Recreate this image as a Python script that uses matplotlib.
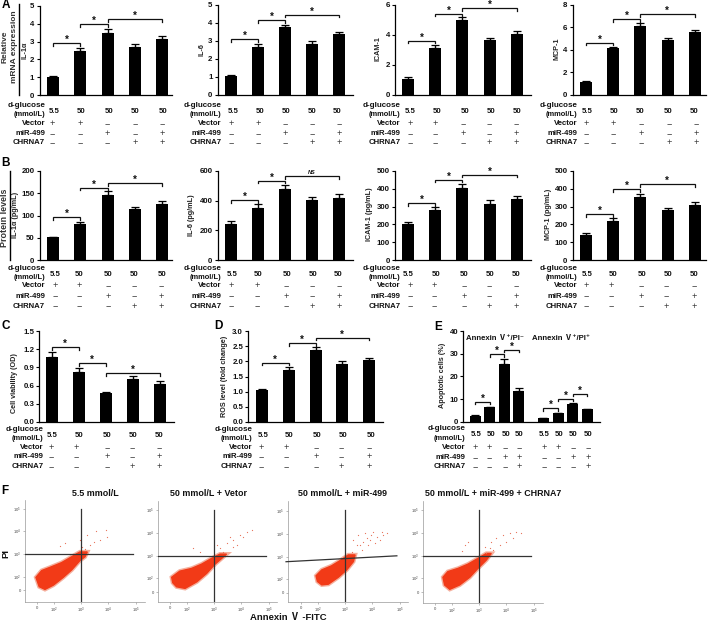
import matplotlib
matplotlib.use('Agg')
import matplotlib.pyplot as plt

W, H = 709, 621
plt.rcParams['font.family'] = ['Liberation Sans', 'Noto Sans CJK SC', 'DejaVu Sans']
plt.rcParams['mathtext.default'] = 'regular'
fig = plt.figure(figsize=(W / 100, H / 100), dpi=100)

# ---------- data ----------
glucose5 = ['5.5', '50', '50', '50', '50']
vector5 = ['+', '+', '−', '−', '−']
mir5 = ['−', '−', '+', '−', '+']
chrna5 = ['−', '−', '−', '+', '+']
glucose8 = ['5.5', '50', '50', '50', '5.5', '50', '50', '50']
vector8 = ['+', '+', '−', '−', '+', '+', '−', '−']
mir8 = ['−', '−', '+', '+', '−', '−', '+', '+']
chrna8 = ['−', '−', '−', '+', '−', '−', '−', '+']

il1a_mrna = [1.03, 2.5, 3.5, 2.72, 3.15]
il1a_mrna_err = [0.02, 0.15, 0.2, 0.15, 0.15]
il6_mrna = [1.03, 2.65, 3.75, 2.83, 3.37]
il6_mrna_err = [0.05, 0.18, 0.12, 0.15, 0.13]
icam_mrna = [1.07, 3.08, 5.0, 3.65, 4.05]
icam_mrna_err = [0.08, 0.22, 0.15, 0.1, 0.17]
mcp_mrna = [1.1, 4.15, 6.15, 4.9, 5.6]
mcp_mrna_err = [0.08, 0.12, 0.2, 0.13, 0.15]

il1a_prot = [51, 80, 146, 115, 125]
il1a_prot_err = [2, 6, 8, 5, 7]
il6_prot = [240, 352, 478, 402, 417]
il6_prot_err = [22, 25, 27, 25, 28]
icam_prot = [200, 278, 405, 312, 342]
icam_prot_err = [15, 18, 20, 22, 17]
mcp_prot = [142, 222, 352, 278, 310]
mcp_prot_err = [8, 14, 20, 15, 16]

viability = [1.08, 0.83, 0.47, 0.71, 0.63]
viability_err = [0.08, 0.06, 0.03, 0.05, 0.04]
ros = [1.04, 1.7, 2.37, 1.92, 2.05]
ros_err = [0.06, 0.1, 0.1, 0.1, 0.08]
apoptosis = [2.7, 6.4, 25.6, 13.7, 1.6, 3.7, 7.7, 5.4]
apoptosis_err = [0.2, 0.3, 2, 1, 0.15, 0.3, 0.7, 0.4]

flow1_core_x = [1.35, 1.56, 1.86, 2.29, 2.66, 2.96, 3.23, 3.15, 2.96, 2.66, 2.35, 1.99, 1.68, 1.47]
flow1_core_y = [1.97, 2.27, 2.41, 2.62, 2.88, 3.09, 3.09, 2.88, 2.71, 2.30, 1.97, 1.63, 1.44, 1.56]
flow1_x = [2.23, 2.41, 2.96, 3.23, 3.55, 3.92, 3.94, 3.70, 3.46, 3.33, 3.15, 3.02]
flow1_y = [3.37, 3.50, 3.62, 3.84, 4.00, 4.06, 3.73, 3.62, 3.54, 3.40, 3.21, 3.32]
flow2_core_x = [1.45, 1.75, 2.18, 2.55, 2.91, 3.22, 3.46, 3.28, 3.04, 2.73, 2.37, 1.94, 1.63, 1.49]
flow2_core_y = [2.05, 2.32, 2.44, 2.63, 2.88, 3.07, 3.07, 2.88, 2.63, 2.22, 1.85, 1.56, 1.63, 1.81]
flow2_x = [2.24, 2.49, 3.22, 3.46, 3.71, 3.95, 4.20, 4.38, 3.59, 3.83, 3.34, 3.10, 4.07, 3.71]
flow2_y = [3.32, 3.18, 3.32, 3.54, 3.69, 3.91, 4.06, 4.13, 3.84, 3.47, 3.18, 3.47, 3.84, 3.40]
flow3_core_x = [1.94, 2.15, 2.51, 2.82, 3.12, 3.37, 3.31, 3.06, 2.76, 2.39, 2.15, 1.99]
flow3_core_y = [2.15, 2.41, 2.59, 2.82, 3.07, 3.07, 2.78, 2.41, 2.09, 1.78, 1.75, 1.90]
flow3_x = [3.31, 3.49, 3.73, 4.04, 4.34, 4.53, 3.43, 3.67, 3.92, 4.16, 4.40, 3.61, 3.85, 4.10, 3.24, 3.55, 3.79, 3.97, 4.28]
flow3_y = [3.73, 3.95, 4.03, 4.10, 4.10, 4.03, 3.51, 3.66, 3.73, 3.88, 3.95, 3.29, 3.51, 3.59, 3.22, 3.51, 3.81, 3.95, 3.73]
flow4_core_x = [1.68, 1.86, 2.23, 2.60, 2.96, 3.27, 3.45, 3.27, 2.96, 2.66, 2.29, 1.93, 1.74]
flow4_core_y = [2.05, 2.30, 2.44, 2.63, 2.88, 3.10, 3.10, 2.81, 2.44, 2.05, 1.71, 1.52, 1.71]
flow4_x = [2.60, 2.39, 2.48, 3.21, 3.45, 3.63, 3.88, 4.12, 4.37, 4.55, 4.25, 4.00, 3.76, 3.51, 3.27, 3.39]
flow4_y = [3.62, 3.22, 3.47, 3.40, 3.62, 3.76, 3.91, 4.01, 4.06, 3.98, 3.76, 3.62, 3.47, 3.25, 3.10, 3.32]
flow_tick_pos = [1.4, 2, 3, 4, 5]
flow_tick_labels = ['0', '$10^2$', '$10^3$', '$10^4$', '$10^5$']
flow_gate = 3

# ---------- helpers ----------
def T(x, y, s, **kw):
    kw.setdefault('ha', 'center')
    kw.setdefault('va', 'center')
    kw.setdefault('color', '#111111')
    fig.text(x / W, 1 - y / H, s, **kw)

def px_axes(l, t, r, b):
    return fig.add_axes([l / W, 1 - b / H, (r - l) / W, (b - t) / H])

def bar_panel(rect, xs_px, vals, errs, ymax, yticks, ylab, lab_x, lab_y, brackets,
              ticklabels=None, bw=12, x_units=None):
    l, t, r, b = rect
    ax = px_axes(l, t, r, b)
    ax.patch.set_alpha(0)
    n = len(vals)
    xv = x_units if x_units is not None else list(range(n))
    s = (xs_px[-1] - xs_px[0]) / (xv[-1] - xv[0])
    ax.set_xlim((l - xs_px[0]) / s, (r - xs_px[0]) / s)
    ax.set_ylim(0, ymax)
    ax.bar(xv, vals, width=bw / s, color='black', zorder=2)
    ax.errorbar(xv, vals, yerr=[[0] * n, errs], fmt='none', ecolor='black',
                elinewidth=1.0, capsize=2.6, capthick=0.9, zorder=1, clip_on=False)
    for sp in ('top', 'right'):
        ax.spines[sp].set_visible(False)
    for sp in ('left', 'bottom'):
        ax.spines[sp].set_linewidth(0.9)
    ax.set_xticks([])
    ax.set_yticks(yticks)
    ax.set_yticklabels(ticklabels if ticklabels else [str(v) for v in yticks],
                       fontsize=5.7, fontweight='bold', color='#111111')
    ax.tick_params(axis='y', length=2.2, width=0.8, pad=1.5)
    T(lab_x, lab_y, ylab, rotation=90, fontsize=5.2, fontweight='bold', color='#222222')
    for item in brackets:
        a, e, py = item[:3]
        lab = item[3] if len(item) > 3 else '*'
        yv = (b - py) / (b - t) * ymax
        dv = 2.6 / (b - t) * ymax
        ax.plot([xv[a], xv[a], xv[e], xv[e]], [yv - dv, yv, yv, yv - dv], color='#111111',
                lw=0.9, clip_on=False, solid_joinstyle='miter', zorder=3)
        xm = (xs_px[a] + xs_px[e]) / 2
        if lab == '*':
            T(xm, py - 3.2, '*', fontsize=7, fontweight='bold')
        else:
            T(xm, py - 3.5, lab, fontsize=4, style='italic', fontweight='bold')
    return ax

def rows(right, val_xs, mark_xs, ys, gl, ve, mi, ch):
    y_dg, y_mm, y_val, y_v, y_m, y_c = ys
    fs = 5.6
    T(right, y_dg, 'd-glucose', ha='right', fontsize=fs + 0.2, fontweight='bold')
    T(right, y_mm, '(mmol/L)', ha='right', fontsize=fs - 0.2, fontweight='bold')
    T(right, y_v, 'Vector', ha='right', fontsize=fs, fontweight='bold')
    T(right, y_m, 'miR-499', ha='right', fontsize=fs, fontweight='bold')
    T(right, y_c, 'CHRNA7', ha='right', fontsize=fs, fontweight='bold')
    for x, s in zip(val_xs, gl):
        T(x, y_val, s, fontsize=fs, fontweight='bold')
    for y, row in ((y_v, ve), (y_m, mi), (y_c, ch)):
        for x, s in zip(mark_xs, row):
            T(x, y, s, fontsize=6.6, color='#333333')

# ---------- row A ----------
ya = (105.5, 114.5, 111.5, 123.7, 133.3, 143)
c1 = [53, 80, 107, 135, 162]
c2 = [231, 258, 285, 312, 339]
c3 = [408, 435, 462.7, 489, 516.7]
c4 = [586, 613, 640, 667.7, 694.7]
bar_panel((39.5, 5.7, 172, 95.3), c1, il1a_mrna, il1a_mrna_err, 5, [0, 1, 2, 3, 4, 5], 'IL-1α', 25, 50,
          [(0, 1, 43), (1, 2, 24), (2, 4, 19)])
bar_panel((217.7, 4.7, 353, 94.7), c2, il6_mrna, il6_mrna_err, 5, [0, 1, 2, 3, 4, 5], 'IL-6', 201.5, 50,
          [(0, 1, 39), (1, 2, 20), (2, 4, 14.7)])
bar_panel((395, 4.7, 530.7, 94.7), c3, icam_mrna, icam_mrna_err, 6, [0, 2, 4, 6], 'ICAM-1', 378, 49,
          [(0, 1, 40.7), (1, 2, 13.7), (2, 4, 8.3)])
bar_panel((572.7, 4.7, 706, 94.7), c4, mcp_mrna, mcp_mrna_err, 8, [0, 2, 4, 6, 8], 'MCP-1', 557, 49,
          [(0, 1, 42.7), (1, 2, 19), (2, 4, 14)])
rows(45, [54, 81, 109.3, 135.3, 163.3], [52.7, 80.3, 107.7, 135, 162.3], ya, glucose5, vector5, mir5, chrna5)
rows(221.7, [232.7, 260, 285.7, 311.7, 337.3], [231, 258.5, 285.5, 312, 339], ya, glucose5, vector5, mir5, chrna5)
rows(400.7, [410, 436.7, 465, 491, 517.3], [410, 435, 463.3, 489.3, 516.7], ya, glucose5, vector5, mir5, chrna5)
rows(577.7, [587.3, 614.3, 640.3, 668.3, 694.3], [586.7, 613.3, 641.7, 669, 696.7], ya, glucose5, vector5, mir5, chrna5)

# ---------- row B ----------
yb = (268.3, 277.3, 274.3, 285.7, 296, 306)
bar_panel((39.5, 170.7, 172, 260.3), c1, il1a_prot, il1a_prot_err, 200, [0, 50, 100, 150, 200], 'IL-1α (pg/mL)', 15.7, 215,
          [(0, 1, 217.3), (1, 2, 187.7), (2, 4, 183)])
bar_panel((217.7, 170.7, 353, 260.3), c2, il6_prot, il6_prot_err, 600, [0, 200, 400, 600], 'IL-6 (pg/mL)', 191.7, 215,
          [(0, 1, 200), (1, 2, 180.7), (2, 4, 176, 'NS')])
bar_panel((395, 170.7, 530.7, 260.3), c3, icam_prot, icam_prot_err, 500, [0, 100, 200, 300, 400, 500], 'ICAM-1 (pg/mL)', 369.3, 214,
          [(0, 1, 203), (1, 2, 179.7), (2, 4, 174.7)])
bar_panel((572.7, 170.7, 706, 260.3), c4, mcp_prot, mcp_prot_err, 500, [0, 100, 200, 300, 400, 500], 'MCP-1 (pg/mL)', 549, 214,
          [(0, 1, 214.3), (1, 2, 189), (2, 4, 184.3)])
rows(45, [55, 79, 107.7, 134, 161.7], [55, 79.3, 108, 134.3, 161.3], yb, glucose5, vector5, mir5, chrna5)
rows(221.7, [231.7, 258.3, 286.7, 312.7, 338.3], [231, 257, 286, 312, 339], yb, glucose5, vector5, mir5, chrna5)
rows(400.7, [408.3, 436, 464.3, 490, 516], [410, 434.3, 464, 489.3, 516.7], yb, glucose5, vector5, mir5, chrna5)
rows(577.7, [586.7, 613.3, 641.7, 667.7, 694], [586.7, 611.7, 641, 666.7, 694], yb, glucose5, vector5, mir5, chrna5)

# ---------- row C/D/E ----------
yc = (429.7, 439, 435.3, 447.3, 457, 466.7)
bar_panel((39.3, 331.3, 174, 421.7), [51.7, 78.7, 105.7, 132.7, 160], viability, viability_err, 1.5,
          [0, 0.3, 0.6, 0.9, 1.2, 1.5], 'Cell viability (OD)', 14.7, 383,
          [(0, 1, 347), (1, 2, 363.3), (2, 4, 373)], ticklabels=['0.0', '0.3', '0.6', '0.9', '1.2', '1.5'])
bar_panel((248.3, 331.3, 383, 421.7), [261.7, 288.3, 315.3, 342.3, 369.3], ros, ros_err, 3.0,
          [0, 0.5, 1, 1.5, 2, 2.5, 3], 'ROS level (fold change)', 224, 376,
          [(0, 1, 362.7), (1, 2, 343.3), (2, 4, 337.7)],
          ticklabels=['0.0', '0.5', '1.0', '1.5', '2.0', '2.5', '3.0'])
bar_panel((463.3, 331, 600, 421.7), [475, 490, 504.7, 519.3, 543.7, 558.3, 573, 587.3], apoptosis, apoptosis_err, 40,
          [0, 10, 20, 30, 40], 'Apoptotic cells (%)', 442, 375,
          [(0, 1, 401.7), (1, 2, 354.3), (2, 3, 349.7), (4, 5, 408.3), (5, 6, 398.7), (6, 7, 393.7)],
          bw=11, x_units=[0, 1, 2, 3, 4.67, 5.67, 6.67, 7.67])
rows(43.3, [52.3, 79.3, 107.3, 133.3, 159.3], [51.7, 76.7, 107, 132.3, 159.3], yc, glucose5, vector5, mir5, chrna5)
rows(252.3, [262.7, 289.3, 317.3, 343.3, 371], [261.7, 286.7, 316.7, 341, 369], yc, glucose5, vector5, mir5, chrna5)
rows(465.7, [475.7, 491, 505.7, 519.3, 544.3, 559.3, 573.3, 588],
     [475, 489.3, 505, 519, 544, 558.3, 573.7, 588.3],
     (429, 438.3, 434.3, 447.3, 457.3, 466.7), glucose8, vector8, mir8, chrna8)
T(466, 339, 'Annexin Ⅴ⁺/PI⁻', ha='left', fontsize=5.6, fontweight='bold')
T(532.3, 339, 'Annexin Ⅴ⁺/PI⁺', ha='left', fontsize=5.6, fontweight='bold')

# ---------- row F ----------
def flow(rect, cx, cy, sx, sy, hline=None, slant=None):
    l, t, r, b = rect
    ax = px_axes(l, t, r, b)
    ax.patch.set_alpha(0)
    ax.set_xlim(*hline['xlim'])
    ax.set_ylim(*hline['ylim'])
    ax.fill(cx, cy, facecolor='#f5b09e', edgecolor='#f5b09e', lw=3.0, zorder=1)
    ax.fill(cx, cy, facecolor='#f23a17', edgecolor='#f23a17', lw=1.0, zorder=2)
    ax.scatter(sx, sy, s=0.8, c='#e8735a', lw=0, zorder=2)
    for sp in ('top', 'right'):
        ax.spines[sp].set_visible(False)
    for sp in ('left', 'bottom'):
        ax.spines[sp].set_linewidth(0.5)
        ax.spines[sp].set_color('#999999')
    ax.set_xticks(flow_tick_pos)
    ax.set_xticklabels(flow_tick_labels, fontsize=3, color='#444444')
    ax.set_yticks(flow_tick_pos)
    ax.set_yticklabels(flow_tick_labels, fontsize=3, color='#444444')
    ax.tick_params(length=1.2, width=0.4, color='#888888', pad=1.5)
    ax.axvline(flow_gate, ymin=0, ymax=hline['vtop'], color='#333333', lw=0.9, zorder=3)
    if slant:
        ax.plot(slant[0], slant[1], color='#333333', lw=0.9, zorder=3, clip_on=False)
    else:
        ax.plot([hline['xlim'][0], hline['hend']], [flow_gate, flow_gate], color='#333333', lw=0.9, zorder=3)

def limits(x3, y3, l, r, t, b, hend_px, vtop_px):
    xs, ys = 27.3, 22.7
    xlim = (3 + (l - x3) / xs, 3 + (r - x3) / xs)
    ylim = (3 - (b - y3) / ys, 3 + (y3 - t) / ys)
    return {'xlim': xlim, 'ylim': ylim, 'hend': 3 + (hend_px - x3) / xs,
            'vtop': (b - vtop_px) / (b - t)}

flow((25, 500, 145, 602), flow1_core_x, flow1_core_y, flow1_x, flow1_y,
     limits(81, 554, 25, 145, 500, 602, 133, 509))
flow((158, 501, 277, 602), flow2_core_x, flow2_core_y, flow2_x, flow2_y,
     limits(214, 555.7, 158, 277, 501, 602, 266, 510))
flow((288, 501, 408, 602), flow3_core_x, flow3_core_y, flow3_x, flow3_y,
     limits(345, 556.5, 288, 408, 501, 602, 397, 510), slant=([0.84, 4.9], [2.77, 3.03]))
flow((423, 501, 543, 603), flow4_core_x, flow4_core_y, flow4_x, flow4_y,
     limits(479, 555.7, 423, 543, 501, 603, 531, 510))

for x, s in ((95, '5.5 mmol/L'), (208, '50 mmol/L + Vetor'), (343, '50 mmol/L + miR-499'),
             (493, '50 mmol/L + miR-499 + CHRNA7')):
    T(x, 493, s, fontsize=6.4, fontweight='bold')
T(288, 617, 'Annexin Ⅴ -FITC', fontsize=6.8, fontweight='bold')
T(6, 553, 'PI', rotation=90, fontsize=6.8, fontweight='bold')

# ---------- row captions and letters ----------
T(4.8, 47, 'Relative', rotation=90, fontsize=6.0, fontweight='bold', color='#333333')
T(14.5, 47, 'mRNA expression', rotation=90, fontsize=6.0, fontweight='bold', color='#333333')
T(4.5, 218, 'Protein levels', rotation=90, fontsize=6.4, fontweight='bold', color='#333333')
fig.add_artist(plt.Line2D([19.3 / W, 19.3 / W], [1 - 3.5 / H, 1 - 95 / H], color='black', lw=1.0))
fig.add_artist(plt.Line2D([10 / W, 10 / W], [1 - 170.5 / H, 1 - 260 / H], color='black', lw=1.0))
for x, y, s in ((5.5, 5.5, 'A'), (5, 163, 'B'), (5.5, 326, 'C'), (218, 326, 'D'), (438, 327, 'E'), (5, 491, 'F')):
    T(x, y, s, fontsize=8.5, fontweight='bold', color='black')

fig.savefig('out.png', dpi=100)
